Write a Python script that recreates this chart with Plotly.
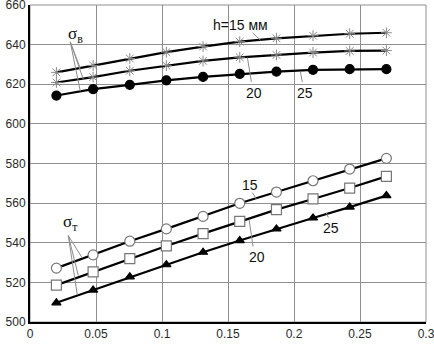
import plotly.graph_objects as go

x = [0.02, 0.0478, 0.0756, 0.1033, 0.1311, 0.1589, 0.1867, 0.2144, 0.2422, 0.27]

sb_15 = [626.0, 629.5, 633.0, 636.2, 639.0, 641.5, 643.2, 644.5, 645.5, 646.0]
sb_20 = [620.9, 623.6, 626.8, 629.4, 631.8, 633.6, 634.8, 636.0, 636.8, 637.0]
sb_25 = [614.3, 617.5, 619.7, 622.0, 623.7, 625.2, 626.4, 627.3, 627.6, 627.6]

st_15 = [527.2, 533.9, 540.8, 547.0, 553.3, 559.9, 565.6, 571.3, 577.2, 582.6]
st_20 = [518.6, 525.3, 532.0, 538.4, 544.6, 550.8, 556.7, 562.1, 567.6, 573.5]
st_25 = [509.7, 516.1, 522.8, 528.9, 535.2, 541.1, 547.0, 552.5, 558.0, 563.8]

x_ticks = [0, 0.05, 0.1, 0.15, 0.2, 0.25, 0.3]
x_tick_text = ["0", "0.05", "0.1", "0.15", "0.2", "0.25", "0.3"]
y_ticks = [500, 520, 540, 560, 580, 600, 620, 640, 660]

fig = go.Figure()

def add(ys, symbol, color, fill, size, lw=1.2):
    fig.add_trace(go.Scatter(
        x=x, y=ys, mode="lines+markers",
        line=dict(color="black", width=2.2),
        marker=dict(symbol=symbol, size=size, color=fill,
                    line=dict(color=color, width=lw)),
        showlegend=False, cliponaxis=False, hoverinfo="skip"))

add(sb_15, "asterisk-open", "#8a8a8a", "#8a8a8a", 9, 1)
add(sb_20, "asterisk-open", "#8a8a8a", "#8a8a8a", 9, 1)
add(sb_25, "circle", "black", "black", 9)
add(st_15, "circle", "#777777", "white", 10)
add(st_20, "square", "#777777", "white", 10)
add(st_25, "triangle-up", "black", "black", 8)

# leader lines (annotation helpers)
leaders = [
    ((0.0305, 641.4), (0.0381, 628.0)),
    ((0.0305, 641.4), (0.0404, 622.5)),
    ((0.0305, 641.4), (0.0381, 616.5)),
    ((0.029, 543.6), (0.0396, 532.3)),
    ((0.029, 543.6), (0.0366, 523.5)),
    ((0.029, 543.6), (0.0358, 513.8)),
    ((0.1686, 645.9), (0.1747, 642.2)),
    ((0.1677, 621.2), (0.1647, 633.5)),
    ((0.2063, 621.2), (0.2048, 626.5)),
    ((0.1685, 565.3), (0.1715, 562.0)),
    ((0.169, 538.1), (0.166, 551.5)),
    ((0.226, 552.7), (0.2245, 555.2)),
]
for (x0, y0), (x1, y1) in leaders:
    fig.add_shape(type="line", x0=x0, y0=y0, x1=x1, y1=y1,
                  line=dict(color="#8c8c8c", width=1), layer="above")

labels = [
    (0.0343, 645.0, "σ<sub>в</sub>", 17, "Liberation Serif"),
    (0.0306, 549.9, "σ<sub>т</sub>", 17, "Liberation Serif"),
    (0.1594, 649.9, "h=15 мм", 14, "Liberation Sans"),
    (0.170, 615.7, "20", 14, "Liberation Sans"),
    (0.2086, 615.7, "25", 14, "Liberation Sans"),
    (0.167, 569.3, "15", 14, "Liberation Sans"),
    (0.1722, 533.0, "20", 14, "Liberation Sans"),
    (0.2283, 547.2, "25", 14, "Liberation Sans"),
]
for lx, ly, t, s, f in labels:
    fig.add_annotation(x=lx, y=ly, text=t, showarrow=False,
                       font=dict(size=s, family=f, color="#111111"),
                       xanchor="center", yanchor="middle")

fig.update_xaxes(range=[0, 0.3], tickvals=x_ticks, ticktext=x_tick_text,
                 showgrid=True, gridcolor="#8f8f8f", gridwidth=1,
                 showline=True, linecolor="black", linewidth=2, mirror=False,
                 ticks="", zeroline=False, ticklabeloverflow="allow",
                 automargin=False,
                 tickfont=dict(family="Liberation Sans", size=12, color="#2a2a2a"))
fig.update_yaxes(range=[500, 660], tickvals=y_ticks,
                 showgrid=True, gridcolor="#8f8f8f", gridwidth=1,
                 showline=True, linecolor="black", linewidth=2,
                 ticks="", zeroline=False, ticklabeloverflow="allow",
                 automargin=False,
                 tickfont=dict(family="Liberation Sans", size=12, color="#2a2a2a"))

# top/right frame in gray
fig.add_shape(type="rect", xref="paper", yref="paper", x0=0, y0=0, x1=1, y1=1,
              line=dict(color="#8f8f8f", width=1), layer="below")

fig.update_layout(width=434, height=347, margin=dict(l=30, r=8, t=5, b=25),
                  plot_bgcolor="white", paper_bgcolor="white", hovermode=False)

fig.write_html("out.html", config={"displayModeBar": False},
               post_script="document.body.style.margin='0px';document.body.style.overflow='hidden';")
